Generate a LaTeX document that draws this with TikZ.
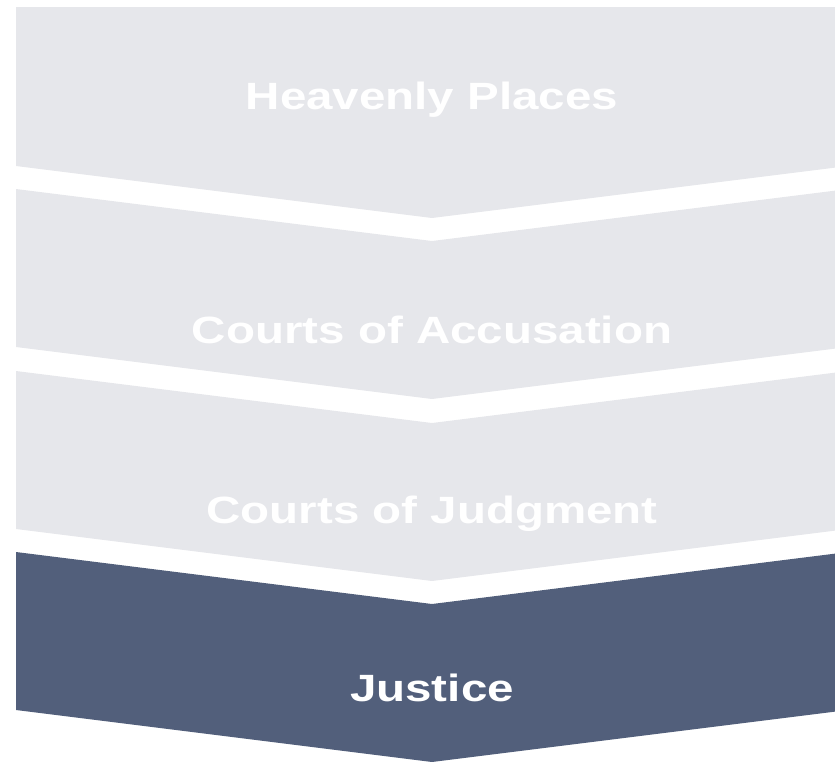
\documentclass[tikz,border=0pt]{standalone}
\usepackage{fontspec}
\setmainfont{Liberation Sans}
\definecolor{bandgray}{HTML}{E6E7EB}
\definecolor{bandslate}{HTML}{525F7B}
\tikzset{
  band/.style= {draw=none, fill=bandgray},
  lastband/.style= {draw=none, fill=bandslate},
  label/.style= {text=white, anchor=base, inner sep=0, xscale=1.25,
    font=\fontsize{38}{40}\selectfont\bfseries},
}

\begin{document}
\begin{tikzpicture}[x=1pt, y=-1pt]
  \useasboundingbox (0,0) rectangle (835,761) ;
  \clip (0,0) rectangle (835,761) ;

  \fill [band] (16,7) -- (848,7) -- (848,166) -- (432,218) -- (16,166) -- cycle ;
  \fill [band] (16,189) -- (432,241) -- (848,189) -- (848,347) -- (432,399) -- (16,347) -- cycle ;
  \fill [band] (16,371) -- (432,423) -- (848,371) -- (848,529) -- (432,581) -- (16,529) -- cycle ;
  \fill [lastband] (16,552) -- (432,604) -- (848,552) -- (848,710) -- (432,762) -- (16,710) -- cycle ;

  \node [label] (heaven) at (432,109) {Heavenly Places} ;
  \node [label] (accuse) at (432,343) {Courts of Accusation} ;
  \node [label] (judge) at (432,523) {Courts of Judgment} ;
  \node [label] (justice) at (432,701) {Justice} ;
\end{tikzpicture}
\end{document}
